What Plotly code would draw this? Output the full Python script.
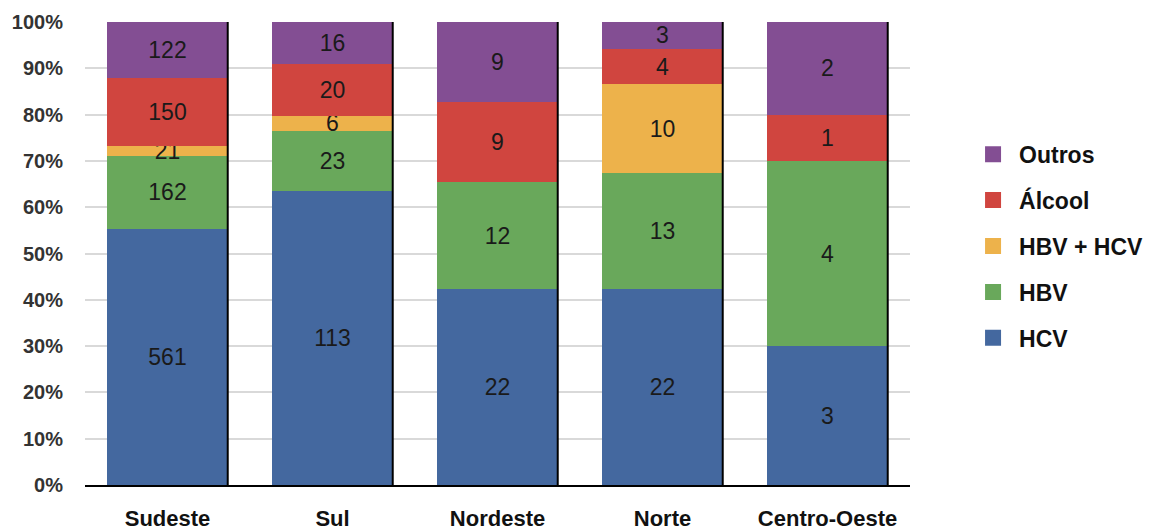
import plotly.graph_objects as go

regions = ["Sudeste", "Sul", "Nordeste", "Norte", "Centro-Oeste"]
series_names = ["HCV", "HBV", "HBV + HCV", "Álcool", "Outros"]
hcv = [561, 113, 22, 22, 3]
hbv = [162, 23, 12, 13, 4]
hbv_hcv = [21, 6, 0, 10, 0]
alcool = [150, 20, 9, 4, 1]
outros = [122, 16, 9, 3, 2]
colors = ["#44689F", "#69A85B", "#EDB24B", "#D0453F", "#834E93"]

values = [hcv, hbv, hbv_hcv, alcool, outros]
bar_width = 0.73
n = len(series_names)
FONT = "Liberation Sans, Arial"

fig = go.Figure()
for k, (name, vals, col) in enumerate(zip(series_names, values, colors)):
    fig.add_trace(go.Bar(
        x=regions, y=vals, name=name, showlegend=False,
        marker=dict(color=col, line=dict(width=0)),
        width=bar_width,
        text=[str(v) if v else "" for v in vals],
        textposition="inside", insidetextanchor="middle", textangle=0,
        textfont=dict(family=FONT, size=23, color="#1a1a1a"),
        constraintext="none",
    ))
    # legend entry with a larger square swatch
    fig.add_trace(go.Scatter(
        x=[None], y=[None], mode="markers", name=f"<b>{name}</b>",
        legendgroup=name, legendrank=n - k,
        marker=dict(symbol="square", size=16, color=col),
    ))

# dark edge along the right side of each column
for i in range(len(regions)):
    fig.add_shape(type="line", xref="x", yref="y",
                  x0=i + bar_width / 2, x1=i + bar_width / 2, y0=0, y1=100,
                  line=dict(color="black", width=2))

fig.update_layout(
    barmode="stack", barnorm="percent",
    width=1154, height=531,
    margin=dict(l=85, r=244, t=22, b=46, autoexpand=False),
    plot_bgcolor="white", paper_bgcolor="white",
    uniformtext=dict(mode="show", minsize=23),
    font=dict(family=FONT, color="#222"),
    legend=dict(
        traceorder="grouped", tracegroupgap=13,
        xref="container", yref="container",
        x=0.838, y=0.75, xanchor="left", yanchor="top",
        font=dict(size=23, color="#111", family=FONT),
        itemwidth=42,
    ),
    xaxis=dict(
        showline=True, linecolor="black", linewidth=2,
        ticks="", ticklabelstandoff=13, automargin=False,
        tickfont=dict(size=22, color="#111", family=FONT),
        tickprefix="<b>", ticksuffix="</b>",
    ),
    yaxis=dict(
        range=[0, 100], dtick=10, ticksuffix="%",
        tickprefix="<b>", ticklabelstandoff=21, automargin=False,
        showgrid=True, gridcolor="#d9d9d9", gridwidth=1.5,
        zeroline=False, showline=False,
        tickfont=dict(size=20, color="#333", family=FONT),
    ),
)
fig.write_html("out.html")
